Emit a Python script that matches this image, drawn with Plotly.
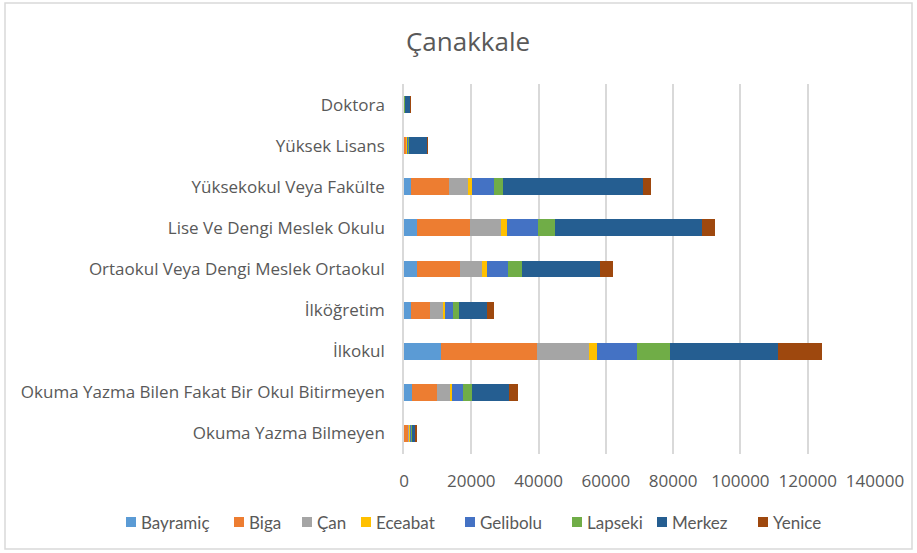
import plotly.graph_objects as go

# Education levels, listed bottom to top as drawn
categories = [
    "Okuma Yazma Bilmeyen",
    "Okuma Yazma Bilen Fakat Bir Okul Bitirmeyen",
    "İlkokul",
    "İlköğretim",
    "Ortaokul Veya Dengi Meslek Ortaokul",
    "Lise Ve Dengi Meslek Okulu",
    "Yüksekokul Veya Fakülte",
    "Yüksek Lisans",
    "Doktora",
]

districts = ["Bayramiç", "Biga", "Çan", "Eceabat", "Gelibolu", "Lapseki", "Merkez", "Yenice"]

bayramic = [100, 2470, 10900, 1990, 3770, 3770, 2170, 60, 30]
biga = [1250, 7430, 28600, 5830, 12960, 15750, 11200, 700, 50]
can = [400, 3770, 15450, 3680, 6540, 9210, 5740, 120, 20]
eceabat = [100, 600, 2380, 600, 1400, 1870, 1010, 40, 10]
gelibolu = [250, 3270, 11980, 2470, 6330, 9300, 6540, 450, 40]
lapseki = [250, 2590, 9710, 1780, 4160, 4870, 2760, 80, 20]
merkez = [1200, 11000, 32000, 8410, 23180, 43780, 41520, 5450, 1650]
yenice = [200, 2850, 13170, 2080, 3860, 3950, 2470, 200, 80]

series = [bayramic, biga, can, eceabat, gelibolu, lapseki, merkez, yenice]
colors = ["#5B9BD5", "#ED7D31", "#A5A5A5", "#FFC000", "#4472C4", "#70AD47", "#255E91", "#9E480E"]

FONT = "'Open Sans', Lato, sans-serif"
LEGEND_FONT = "Lato, 'Open Sans', sans-serif"
TEXT = "#595959"

fig = go.Figure()
for name, vals, col in zip(districts, series, colors):
    fig.add_trace(go.Bar(
        y=categories, x=vals, name=name, orientation="h",
        marker=dict(color=col, line=dict(width=0)),
        showlegend=False,
    ))

W, H = 917, 553
L, R, T, B = 404, 42, 84, 99
pw, ph = W - L - R, H - T - B


def px_x(px):
    return (px - L) / pw


def px_y(py):
    return (T + ph - py) / ph


# legend row below the axis: a swatch and a label per district
legend_left = [126, 234, 302, 361, 465, 572, 657, 758]
legend_mid = 522
for left, name, col in zip(legend_left, districts, colors):
    fig.add_shape(type="rect", xref="paper", yref="paper",
                  x0=px_x(left), x1=px_x(left + 10),
                  y0=px_y(legend_mid + 5), y1=px_y(legend_mid - 5),
                  line=dict(width=0), fillcolor=col)
    fig.add_annotation(xref="paper", yref="paper",
                       x=px_x(left + 13), y=px_y(legend_mid),
                       xanchor="left", yanchor="middle", showarrow=False,
                       text=name, font=dict(size=17, color=TEXT, family=LEGEND_FONT))

fig.update_layout(
    width=W, height=H,
    barmode="stack", bargap=0.59,
    paper_bgcolor="white", plot_bgcolor="white",
    margin=dict(l=L, r=R, t=T, b=B, pad=0),
    font=dict(family=FONT, size=17, color=TEXT),
    title=dict(text="Çanakkale", x=468 / W, xanchor="center", xref="container",
               y=1 - 42 / H, yanchor="middle", yref="container",
               font=dict(size=26, color=TEXT, family=FONT)),
    xaxis=dict(range=[0, 140000], dtick=20000, tickformat="d",
               showgrid=True, gridcolor="#D9D9D9", gridwidth=1.5,
               zeroline=False, showline=False, ticks="",
               ticklabelstandoff=15, tickfont=dict(size=17, color=TEXT)),
    yaxis=dict(showgrid=False, zeroline=False, showline=True,
               linecolor="#D9D9D9", linewidth=1.5, ticks="",
               ticklabelstandoff=14, tickfont=dict(size=17, color=TEXT)),
    showlegend=False,
)

# chart frame
fig.add_shape(type="rect", xref="paper", yref="paper",
              x0=px_x(5), x1=px_x(912), y0=px_y(549), y1=px_y(3),
              line=dict(color="#D9D9D9", width=1.5), fillcolor="rgba(0,0,0,0)",
              layer="below")

fig.write_html("out.html")
